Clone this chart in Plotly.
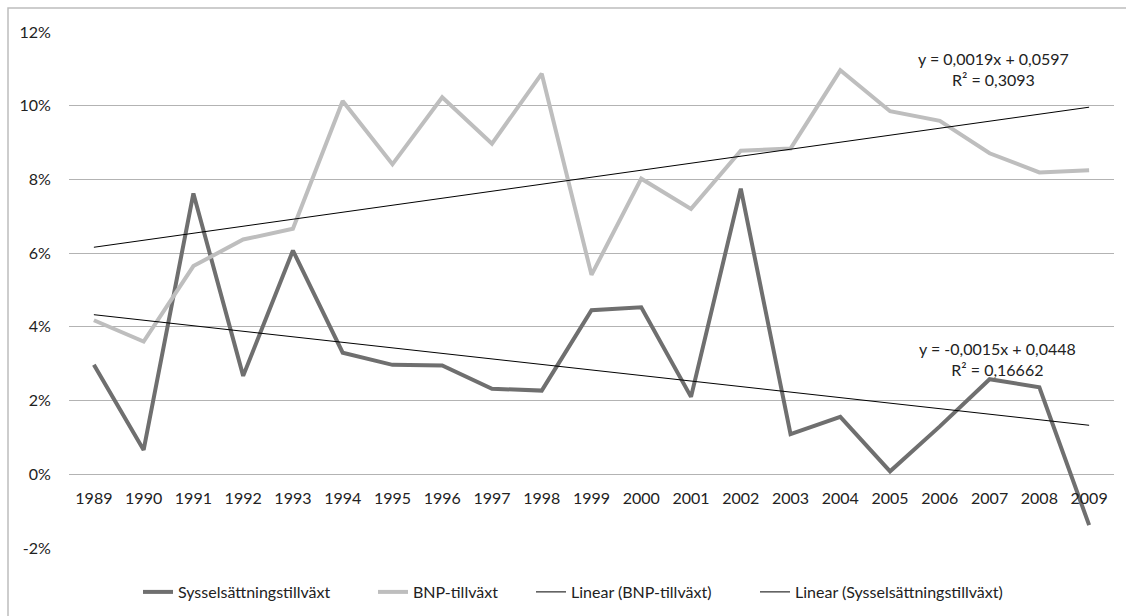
import plotly.graph_objects as go

years = [str(y) for y in range(1989, 2010)]
syssel = [2.97, 0.66, 7.62, 2.67, 6.07, 3.30, 2.97, 2.95, 2.32, 2.27, 4.45,
          4.53, 2.10, 7.75, 1.09, 1.56, 0.08, 1.30, 2.58, 2.36, -1.38]
bnp = [4.18, 3.60, 5.65, 6.37, 6.66, 10.13, 8.41, 10.23, 8.97, 10.87, 5.41,
       8.02, 7.20, 8.78, 8.84, 10.96, 9.85, 9.59, 8.71, 8.19, 8.25]
syssel = [v / 100 for v in syssel]
bnp = [v / 100 for v in bnp]

y_tickvals = [-0.02, 0.0, 0.02, 0.04, 0.06, 0.08, 0.10, 0.12]
y_ticktext = ["-2%", "0%", "2%", "4%", "6%", "8%", "10%", "12%"]

# Excel linear trendline coefficients (x = 1..21)
bnp_slope, bnp_inter, bnp_r2 = 0.0019, 0.0597, "0,3093"
sys_slope, sys_inter, sys_r2 = -0.0015, 0.0448, "0,16662"

xi = list(range(1, len(years) + 1))
bnp_trend = [bnp_slope * i + bnp_inter for i in xi]
sys_trend = [sys_slope * i + sys_inter for i in xi]

DARK = "#6f6f6f"
LIGHT = "#bebebe"
FONT = "Lato"
FS = 16

PL, PW = 69, 1045  # plot left px, plot width px


def px2paper(px):
    return (px - PL) / PW


fig = go.Figure()
fig.add_trace(go.Scatter(x=years, y=syssel, mode="lines", name="Sysselsättningstillväxt",
                         line=dict(color=DARK, width=4), legend="legend"))
fig.add_trace(go.Scatter(x=years, y=bnp, mode="lines", name="BNP-tillväxt",
                         line=dict(color=LIGHT, width=4), legend="legend2"))
fig.add_trace(go.Scatter(x=years, y=bnp_trend, mode="lines", name="Linear (BNP-tillväxt)",
                         line=dict(color="black", width=1), legend="legend3"))
fig.add_trace(go.Scatter(x=years, y=sys_trend, mode="lines", name="Linear (Sysselsättningstillväxt)",
                         line=dict(color="black", width=1), legend="legend4"))


def fmt(v):
    return f"{v:.4f}".replace(".", ",")


fig.add_annotation(x=18.07, y=0.110, xref="x", yref="y",
                   text=f"y = {fmt(bnp_slope)}x + {fmt(bnp_inter)}<br>R² = {bnp_r2}",
                   showarrow=False, font=dict(family=FONT, size=FS, color="#222"),
                   align="center", xanchor="center", yanchor="middle")
fig.add_annotation(x=18.15, y=0.0312, xref="x", yref="y",
                   text=f"y = {fmt(sys_slope)}x + {fmt(sys_inter)}<br>R² = {sys_r2}",
                   showarrow=False, font=dict(family=FONT, size=FS, color="#222"),
                   align="center", xanchor="center", yanchor="middle")

# outer border
fig.add_shape(type="rect", xref="paper", yref="paper",
              x0=px2paper(8), x1=px2paper(1140),
              y0=(548 - 630) / 516, y1=(548 - 8) / 516,
              line=dict(color="#bdbdbd", width=1.5), fillcolor="rgba(0,0,0,0)", layer="below")

leg_common = dict(orientation="h", xanchor="left", y=(548 - 592) / 516, yanchor="middle",
                  font=dict(family=FONT, size=FS, color="#222"), itemwidth=30,
                  bgcolor="rgba(0,0,0,0)")
legend_text_starts = [177, 412, 570, 794]

fig.update_layout(
    width=1126, height=616,
    margin=dict(l=PL, r=12, t=32, b=68, autoexpand=False),
    paper_bgcolor="white", plot_bgcolor="white",
    font=dict(family=FONT, size=FS, color="#222"),
    showlegend=True,
    legend=dict(x=px2paper(legend_text_starts[0] - 39), **leg_common),
    legend2=dict(x=px2paper(legend_text_starts[1] - 39), **leg_common),
    legend3=dict(x=px2paper(legend_text_starts[2] - 39), **leg_common),
    legend4=dict(x=px2paper(legend_text_starts[3] - 39), **leg_common),
    xaxis=dict(type="category", range=[-0.5, len(years) - 0.5],
               showgrid=False, zeroline=False, showline=False, automargin=False,
               anchor="free", position=(0 - (-0.02)) / 0.14,
               ticks="outside", ticklen=10, tickcolor="rgba(0,0,0,0)",
               tickfont=dict(family=FONT, size=FS, color="#222")),
    yaxis=dict(range=[-0.02, 0.12], tickvals=y_tickvals, ticktext=y_ticktext,
               showgrid=True, gridcolor="#b3b3b3", gridwidth=1, automargin=False,
               zeroline=False, showline=False,
               ticks="outside", ticklen=14, tickcolor="rgba(0,0,0,0)",
               tickfont=dict(family=FONT, size=FS, color="#222")),
)

fig.write_html("out.html", config={"displayModeBar": False},
               post_script="document.body.style.margin='0';document.body.style.overflow='hidden';")
